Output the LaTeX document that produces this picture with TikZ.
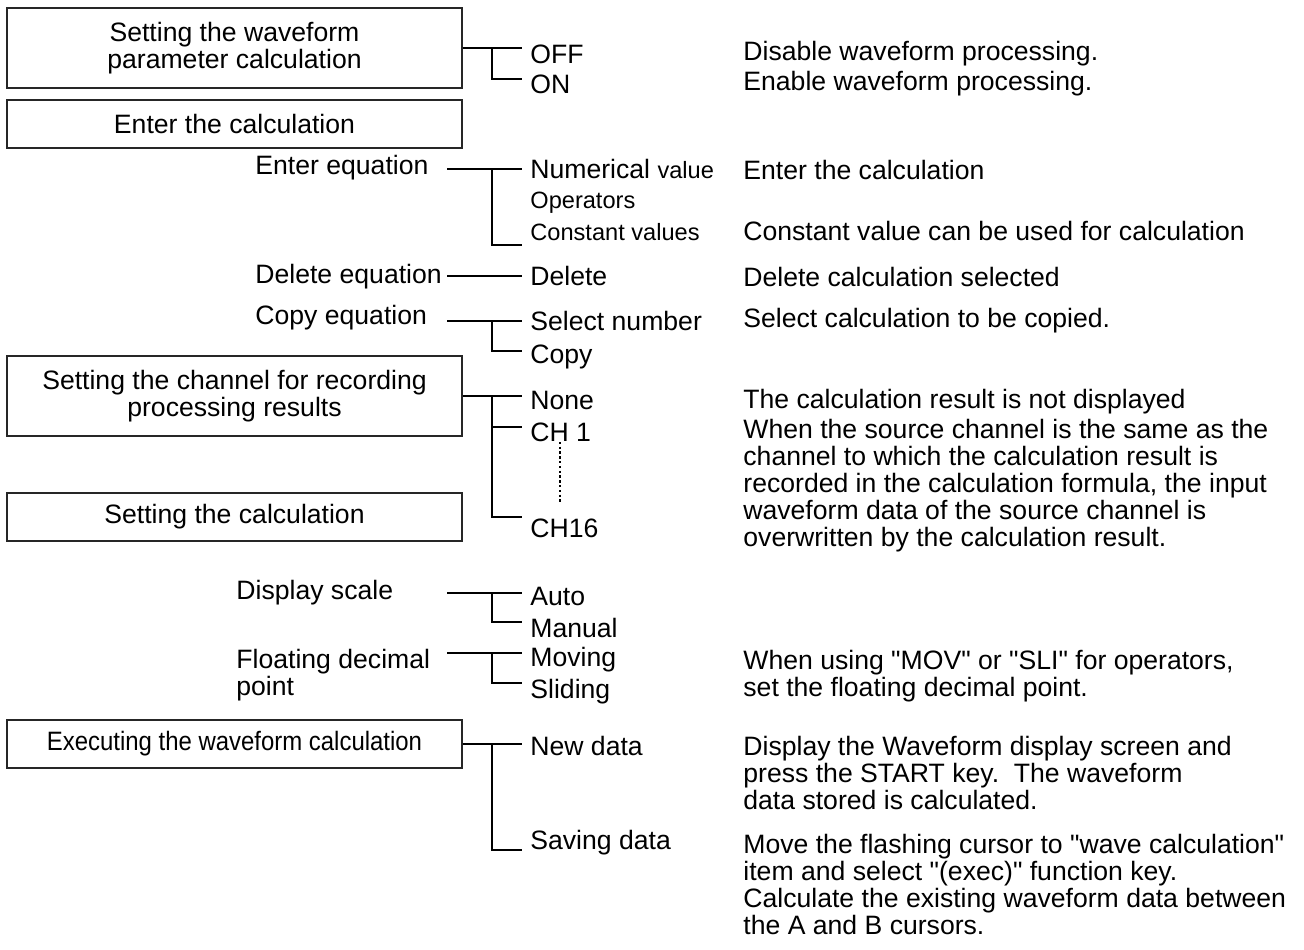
\documentclass[tikz,border=0pt]{standalone}
\usepackage{fontspec}
\setmainfont{Liberation Sans}[Ligatures=TeXOff]
\newfontfamily\condfont[FakeStretch=0.9]{Liberation Sans}
\usetikzlibrary{calc,positioning}

\newcommand\smalltxt{\fontsize{11.8}{13.5}\selectfont}

\begin{document}
\begin{tikzpicture}[x=0.5pt,y=-0.5pt,
  font=\fontsize{13.3}{13.5}\selectfont,
  menubox/.style={draw=black!85,line width=0.6pt,minimum width=227.5pt,align=center,inner sep=0pt},
  lbl/.style={anchor=west,inner sep=0pt,align=left},
  item/.style={anchor=west,inner sep=0pt},
  desc/.style={anchor=west,inner sep=0pt,align=left},
  conn/.style={line width=0.9pt},
  dotline/.style={line width=0.7pt,dash pattern=on 1.2pt off 1.2pt}]
  \useasboundingbox (0,0) rectangle (1304,949);
  \coordinate (colL) at (447,0);
  \coordinate (colJ) at (492,0);
  \coordinate (colR) at (522,0);

  % boxes on the left
  \node[menubox,minimum height=40pt] (wfparam) at (234.5,48) {Setting the waveform\\parameter calculation};
  \node[menubox,minimum height=24pt] (entercalc) at (234.5,124) {Enter the calculation};
  \node[menubox,minimum height=40pt] (recch) at (234.5,396) {Setting the channel for recording\\processing results};
  \node[menubox,minimum height=24pt] (setcalc) at (234.5,517) {Setting the calculation};
  \node[menubox,minimum height=24pt] (execcalc) at (234.5,744) {\condfont Executing the waveform calculation};

  % plain labels
  \node[lbl] (entereq) at (255,168) {Enter equation};
  \node[lbl] (deleq) at (255,277) {Delete equation};
  \node[lbl] (copyeq) at (255,318) {Copy equation};
  \node[lbl] (dispscale) at (236,593) {Display scale};
  \node[lbl] (floatpt) at (236,675) {Floating decimal\\point};

  % settings
  \node[item] (off) at (530,54) {OFF};
  \node[item] (on) at (530,84) {ON};
  \node[item] (numval) at (530,169) {Numerical {\smalltxt value}};
  \node[item] (oper) at (530,203) {\smalltxt Operators};
  \node[item] (constv) at (530,232) {\smalltxt Constant values};
  \node[item] (delete) at (530,276) {Delete};
  \node[item] (selnum) at (530,321) {Select number};
  \node[item] (copy) at (530,357) {Copy};
  \node[item] (none) at (530,400) {None};
  \node[item] (ch1) at (530,432) {CH 1};
  \node[item] (ch16) at (530,528) {CH16};
  \node[item] (auto) at (530,596) {Auto};
  \node[item] (manual) at (530,628) {Manual};
  \node[item] (moving) at (530,660) {Moving};
  \node[item] (sliding) at (530,692) {Sliding};
  \node[item] (newdata) at (530,746) {New data};
  \node[item] (savedata) at (530,843) {Saving data};

  % descriptions
  \node[desc] (dsoff) at (743,54) {Disable waveform processing.};
  \node[desc] (dson) at (743,84) {Enable waveform processing.};
  \node[desc] (dsnum) at (743,170) {Enter the calculation};
  \node[desc] (dsconst) at (743,231) {Constant value can be used for calculation};
  \node[desc] (dsdel) at (743,277) {Delete calculation selected};
  \node[desc] (dssel) at (743,321) {Select calculation to be copied.};
  \node[desc] (dsnone) at (743,402) {The calculation result is not displayed};
  \node[desc] (dsch) at (743,486) {When the source channel is the same as the\\
    channel to which the calculation result is\\
    recorded in the calculation formula, the input\\
    waveform data of the source channel is\\
    overwritten by the calculation result.};
  \node[desc] (dsfloat) at (743,676) {When using "MOV" or "SLI" for operators,\\
    set the floating decimal point.};
  \node[desc] (dsnew) at (743,773) {Display the Waveform display screen and\\
    press the START key.\ \ The waveform\\
    data stored is calculated.};
  \node[desc] (dssave) at (743,884) {Move the flashing cursor to "wave calculation"\\
    item and select "(exec)" function key.\\
    Calculate the existing waveform data between\\
    the A and B cursors.};

  % connectors
  \draw[conn] (wfparam.east) -- (wfparam.east -| colR);
  \draw[conn] (wfparam.east -| colJ) |- ([yshift=2.5pt]on.west -| colR);

  \draw[conn] (numval.west -| colL) -- (numval.west -| colR);
  \draw[conn] (numval.west -| colJ) |- ([yshift=-6.5pt]constv.west -| colR);
  \draw[conn] (delete.west -| colL) -- (delete.west -| colR);
  \draw[conn] (selnum.west -| colL) -- (selnum.west -| colR);
  \draw[conn] (selnum.west -| colJ) |- ([yshift=3pt]copy.west -| colR);

  \draw[conn] (recch.east) -- (recch.east -| colR);
  \draw[conn] (recch.east -| colJ) |- ([yshift=2.5pt]ch1.west -| colR);
  \draw[conn] (recch.east -| colJ) |- ([yshift=5.5pt]ch16.west -| colR);
  \draw[dotline] ([xshift=15pt]ch1.south west) -- ++(0,60);

  \draw[conn] ([yshift=1.5pt]auto.west -| colL) -- ([yshift=1.5pt]auto.west -| colR);
  \draw[conn] ([yshift=1.5pt]auto.west -| colJ) |- ([yshift=3pt]manual.west -| colR);
  \draw[conn] ([yshift=3.5pt]moving.west -| colL) -- ([yshift=3.5pt]moving.west -| colR);
  \draw[conn] ([yshift=3.5pt]moving.west -| colJ) |- ([yshift=4.5pt]sliding.west -| colR);

  \draw[conn] (execcalc.east) -- (execcalc.east -| colR);
  \draw[conn] (execcalc.east -| colJ) |- ([yshift=-3.5pt]savedata.west -| colR);
\end{tikzpicture}
\end{document}
